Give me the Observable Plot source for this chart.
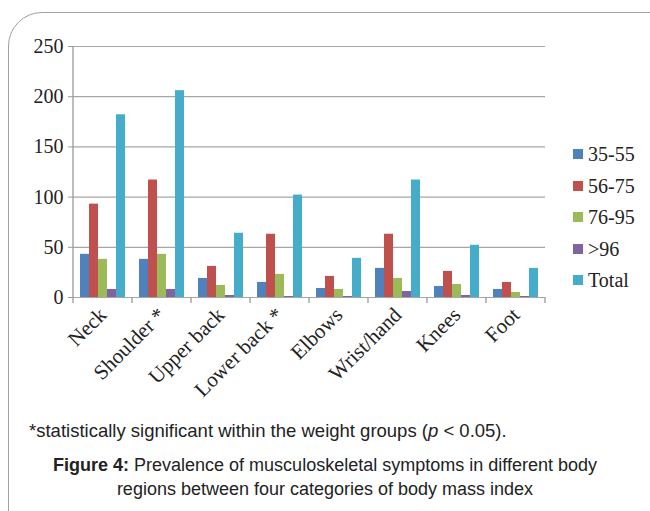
<!DOCTYPE html>
<html>
<head>
<meta charset="utf-8">
<script src="https://cdn.jsdelivr.net/npm/d3@7"></script>
<script src="https://cdn.jsdelivr.net/npm/@observablehq/plot@0.6"></script>
<style>
  html, body { margin: 0; padding: 0; background: #fff; }
  #wrap { position: relative; width: 650px; height: 511px; overflow: hidden; }
  #box { position: absolute; left: 8px; top: 12px; width: 700px; height: 540px;
         border: 1px solid #a0a0a0; border-radius: 34px; box-sizing: border-box; }
  #chart { position: absolute; left: 0; top: 0; }
  #chart svg [aria-label^="y-axis"] line, #chart svg [aria-label^="y-axis"] path { stroke: #9a9a9a; }
  #chart svg [aria-label^="y-axis"] text { font-size: 20px; }
  #legend { position: absolute; left: 573px; top: 141px; font-family: "Liberation Serif", "Times New Roman", serif;
            font-size: 20px; color: #222; }
  .item { position: absolute; left: 0; height: 26px; white-space: nowrap; }
  .sw { position: absolute; left: 0; top: 8px; width: 10px; height: 10px; }
  .lab { position: absolute; left: 15px; top: 0; line-height: 26px; }
  #note { position: absolute; left: 29px; top: 420px; font-family: "Liberation Sans", Arial, sans-serif;
          font-size: 18.5px; color: #222; white-space: nowrap; }
  #cap { position: absolute; left: 0; width: 650px; top: 453px; text-align: center;
         font-family: "Liberation Sans", Arial, sans-serif; font-size: 18px; line-height: 24px; color: #222; }
</style>
</head>
<body>
<div id="wrap">
  <div id="box"></div>
  <div id="chart"></div>
  <div id="legend"></div>
  <div id="note">*statistically significant within the weight groups (<i>p</i> &lt; 0.05).</div>
  <div id="cap"><b>Figure 4:</b> Prevalence of musculoskeletal symptoms in different body<br>regions between four categories of body mass index</div>
</div>
<script>
const regions = ["Neck", "Shoulder *", "Upper back", "Lower back *", "Elbows", "Wrist/hand", "Knees", "Foot"];
const series = ["35-55", "56-75", "76-95", ">96", "Total"];
const colors = ["#4F81BD", "#C0504D", "#9BBB59", "#8064A2", "#45ADC9"];
const v35_55 = [43, 38, 19, 15, 9, 29, 11, 8];
const v56_75 = [93, 117, 31, 63, 21, 63, 26, 15];
const v76_95 = [38, 43, 12, 23, 8, 19, 13, 5];
const v96 = [8, 8, 2, 1, 1, 6, 2, 1];
const vTotal = [182, 206, 64, 102, 39, 117, 52, 29];
const yTicks = [0, 50, 100, 150, 200, 250];

const seriesValues = [v35_55, v56_75, v76_95, v96, vTotal];
const data = [];
regions.forEach((r, i) => series.forEach((s, j) => data.push({region: r, series: s, value: seriesValues[j][i]})));

// legend (built first so it always shows)
const leg = d3.select("#legend");
series.forEach((s, j) => {
  const it = leg.append("div").attr("class", "item").style("top", (j * 31.5) + "px");
  it.append("div").attr("class", "sw").style("background", colors[j]);
  it.append("div").attr("class", "lab").text(s);
});

const plot = Plot.plot({
  width: 650,
  height: 400,
  marginLeft: 73,
  marginRight: 105,
  marginTop: 46,
  marginBottom: 103,
  style: {fontFamily: "Liberation Serif, Times New Roman, serif", fontSize: "21px", color: "#222", background: "transparent", overflow: "visible"},
  facet: {data, x: "region"},
  fx: {domain: regions, padding: 0, label: null, tickRotate: -45, tickSize: 0, tickPadding: 14},
  x: {domain: series, paddingInner: 0, paddingOuter: 0.66, axis: null},
  y: {domain: [0, 250], ticks: yTicks, tickSize: 5, tickPadding: 5, label: null},
  color: {domain: series, range: colors},
  marks: [
    Plot.ruleY(yTicks, {stroke: "#a6a6a6", strokeWidth: 1.2}),
    Plot.barY(data, {x: "series", y: "value", fill: "series"})
  ]
});
document.getElementById("chart").appendChild(plot);

// category boundary ticks and y-axis line, positioned with the plot's own scales
const fxInfo = plot.scale("fx");
const fxS = d3.scaleBand(fxInfo.domain, fxInfo.range).paddingInner(0).paddingOuter(0);
const yInfo = plot.scale("y");
const yS = d3.scaleLinear(yInfo.domain, yInfo.range);
const svg = d3.select(plot);
const edges = regions.map(r => fxS(r)).concat([fxS(regions[regions.length - 1]) + fxS.bandwidth()]);
const y0 = yS(0), yTop = yS(250);
svg.append("g").attr("stroke", "#9a9a9a").attr("stroke-width", 1.3)
  .selectAll("line").data(edges).join("line")
  .attr("x1", d => d).attr("x2", d => d).attr("y1", y0).attr("y2", y0 + 6);
svg.append("line").attr("stroke", "#9a9a9a").attr("stroke-width", 1.3)
  .attr("x1", edges[0]).attr("x2", edges[0]).attr("y1", yTop).attr("y2", y0);
</script>
</body>
</html>
